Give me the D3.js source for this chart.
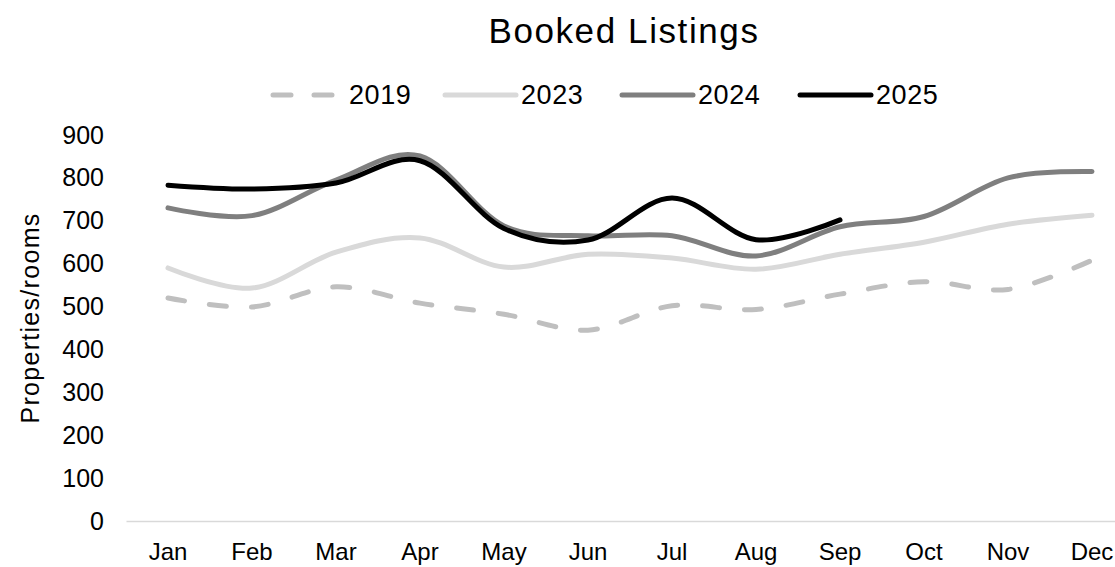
<!DOCTYPE html>
<html>
<head>
<meta charset="utf-8">
<script src="https://cdn.jsdelivr.net/npm/d3@7"></script>
<style>
  body { margin: 0; background: #fff; }
  svg { display: block; font-family: "Liberation Sans", Arial, sans-serif; }
</style>
</head>
<body>
<svg width="1115" height="567"></svg>
<script>
const months = ['Jan','Feb','Mar','Apr','May','Jun','Jul','Aug','Sep','Oct','Nov','Dec'];
const yTicks = [0,100,200,300,400,500,600,700,800,900];

const v2019 = [520, 499, 546, 508, 482, 445, 502, 493, 529, 558, 540, 608];
const v2023 = [590, 543, 627, 660, 592, 622, 613, 587, 622, 650, 692, 713];
const v2024 = [730, 712, 795, 851, 688, 665, 665, 618, 686, 710, 800, 815];
const v2025 = [783, 774, 788, 840, 682, 655, 753, 656, 702, null, null, null];

const series = [
  { name: '2019', values: v2019, color: '#bfbfbf', dash: '17,25' },
  { name: '2023', values: v2023, color: '#d9d9d9', dash: null },
  { name: '2024', values: v2024, color: '#7f7f7f', dash: null },
  { name: '2025', values: v2025, color: '#000000', dash: null }
];

const svg = d3.select('svg');

const x = d3.scaleBand().domain(months).range([126, 1134]).padding(0);
const y = d3.scaleLinear().domain([0, 900]).range([521, 135]);
const cx = m => x(m) + x.bandwidth() / 2;

// x axis
const xAxis = svg.append('g')
  .attr('transform', 'translate(0,521)')
  .call(d3.axisBottom(x).tickSize(0).tickPadding(22));
xAxis.select('.domain').attr('stroke', '#d9d9d9').attr('stroke-width', 1.5);
xAxis.selectAll('text').attr('font-size', 24).attr('fill', '#000')
  .attr('font-family', '"Liberation Sans", Arial, sans-serif');

// y axis
const yAxis = svg.append('g')
  .attr('transform', 'translate(104,0)')
  .call(d3.axisLeft(y).tickValues(yTicks).tickSize(0).tickPadding(0));
yAxis.select('.domain').remove();
yAxis.selectAll('text').attr('font-size', 25).attr('fill', '#000')
  .attr('font-family', '"Liberation Sans", Arial, sans-serif');

svg.append('text')
  .attr('transform', 'translate(39,318) rotate(-90)')
  .attr('text-anchor', 'middle')
  .attr('font-size', 25)
  .attr('letter-spacing', 1.3)
  .text('Properties/rooms');

// title
svg.append('text')
  .attr('x', 624).attr('y', 43)
  .attr('text-anchor', 'middle')
  .attr('font-size', 35)
  .attr('letter-spacing', 1.6)
  .text('Booked Listings');

// lines
const line = d3.line()
  .x(d => cx(d[0]))
  .y(d => y(d[1]))
  .curve(d3.curveCardinal.tension(0));

svg.selectAll('.series')
  .data(series)
  .enter()
  .append('path')
    .attr('class', 'series')
    .attr('fill', 'none')
    .attr('stroke', d => d.color)
    .attr('stroke-width', 5)
    .attr('stroke-linecap', 'round')
    .attr('stroke-linejoin', 'round')
    .attr('stroke-dasharray', d => d.dash)
    .attr('d', d => line(months.map((m, i) => [m, d.values[i]]).filter(p => p[1] != null)));

// legend
const legendX = [273, 445, 622, 800];
const legend = svg.selectAll('.legend')
  .data(series)
  .enter()
  .append('g')
  .attr('class', 'legend')
  .attr('transform', (d, i) => 'translate(' + legendX[i] + ',95)');

legend.append('line')
  .attr('x1', 0).attr('x2', 71)
  .attr('stroke', d => d.color)
  .attr('stroke-width', 5)
  .attr('stroke-linecap', 'round')
  .attr('stroke-dasharray', d => d.dash ? '18,23' : null);

legend.append('text')
  .attr('x', 76)
  .attr('dy', '0.35em')
  .attr('font-size', 27)
  .attr('letter-spacing', 0.6)
  .text(d => d.name);
</script>
</body>
</html>
